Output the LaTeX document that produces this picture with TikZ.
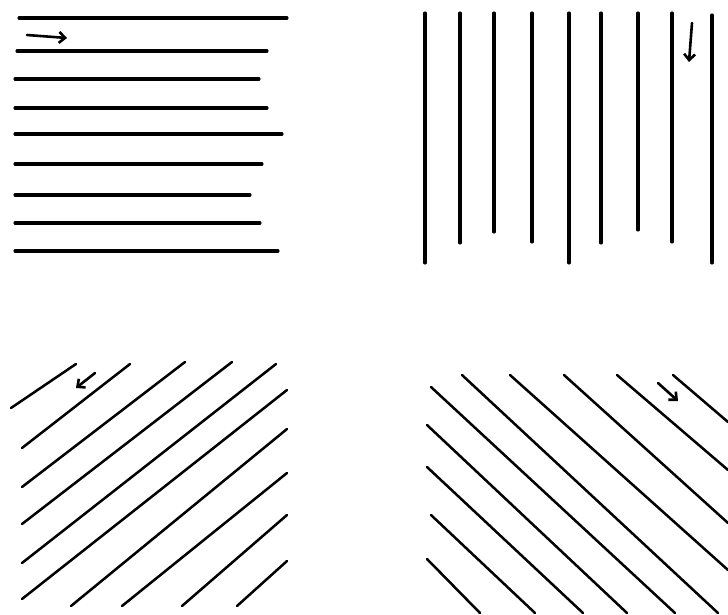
\documentclass[tikz,border=0pt]{standalone}
\usetikzlibrary{arrows.meta}
\begin{document}
\begin{tikzpicture}[x=1pt,y=-1pt,
  stroke/.style={line width=3.1pt,line cap=round,black},
  thin stroke/.style={line width=2.5pt,line cap=round,black},
  flowarrow/.style={line width=2.6pt,line cap=round,-{Straight Barb[length=6pt,width=11pt,line width=2.6pt]}}]
\useasboundingbox[fill=white] (0,0) rectangle (728,615);
% --- top left: horizontal lines
\foreach \y/\xa/\xb in {18/19/287, 51/17/267, 79/15/259, 108/15/267, 134/15/282, 164/15/262, 195/15/250, 223/15/260, 251/15/278}
  \draw[stroke] (\xa,\y) -- (\xb,\y);
\draw[flowarrow] (27,35) -- (67,38);
% --- top right: vertical lines
\foreach \x/\ya/\yb in {425/13/263, 460/13/243, 494/13/232, 532/13/242, 569/13/263, 601/13/243, 638/13/230, 672/13/242, 712/15/263}
  \draw[stroke] (\x,\ya) -- (\x,\yb);
\draw[flowarrow] (692,23) -- (689,62);
% --- bottom left: rising diagonals
\foreach \xa/\ya/\xb/\yb in {11/408/76/364, 22/448/130/364, 22/487/185/362, 22/524/232/362, 22/563/276/364, 22/599/287/390, 71/606/287/429, 122/606/287/473, 182/606/287/515, 237/606/287/561}
  \draw[thin stroke] (\xa,\ya) -- (\xb,\yb);
\draw[flowarrow] (95,373) -- (76,388);
% --- bottom right: falling diagonals
\foreach \xa/\ya/\xb/\yb in {427/559/480/613, 431/515/535/613, 427/467/583/613, 427/425/627/613, 431/387/675/613, 462/375/718/613, 510/375/728/570, 564/375/728/523, 617/375/728/470, 673/375/728/422}
  \draw[thin stroke] (\xa,\ya) -- (\xb,\yb);
\draw[flowarrow] (658,383) -- (678,401);
\end{tikzpicture}
\end{document}
